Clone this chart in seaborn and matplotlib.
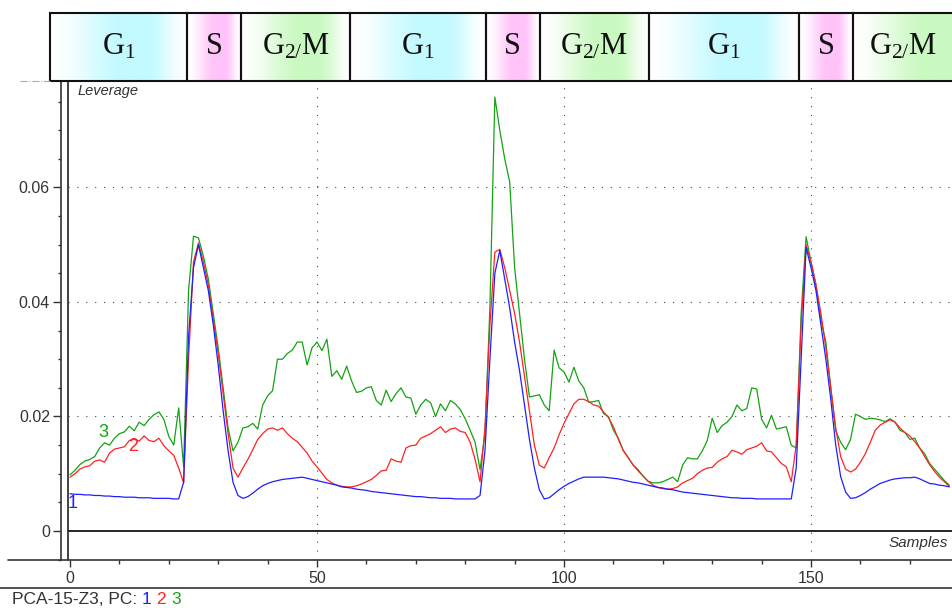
import numpy as np
import pandas as pd
import matplotlib
matplotlib.use("Agg")
import matplotlib.pyplot as plt
from matplotlib.lines import Line2D
from matplotlib.patches import Rectangle
from matplotlib.ticker import MultipleLocator, FixedLocator
from matplotlib.colors import to_rgb
import seaborn as sns

# ---------------------------------------------------------------- data
samples = np.arange(179)

pc1 = [
    0.0065, 0.0064, 0.0064, 0.0063, 0.0063, 0.0062, 0.0062, 0.0061, 0.0061, 0.0060,
    0.0060, 0.0059, 0.0059, 0.0059, 0.0058, 0.0058, 0.0058, 0.0057, 0.0057, 0.0057,
    0.0057, 0.0056, 0.0056, 0.0085, 0.0340, 0.0460, 0.0500, 0.0460, 0.0420, 0.0360,
    0.0290, 0.0210, 0.0140, 0.0085, 0.0062, 0.0057, 0.0060, 0.0066, 0.0073, 0.0079,
    0.0083, 0.0086, 0.0088, 0.0090, 0.0091, 0.0092, 0.0093, 0.0094, 0.0092, 0.0090,
    0.0088, 0.0086, 0.0084, 0.0082, 0.0080, 0.0077, 0.0076, 0.0075, 0.0073, 0.0072,
    0.0071, 0.0069, 0.0068, 0.0067, 0.0066, 0.0065, 0.0064, 0.0063, 0.0062, 0.0061,
    0.0060, 0.0060, 0.0059, 0.0058, 0.0058, 0.0057, 0.0057, 0.0057, 0.0056, 0.0056,
    0.0056, 0.0056, 0.0056, 0.0062, 0.0140, 0.0300, 0.0450, 0.0490, 0.0440, 0.0390,
    0.0330, 0.0280, 0.0220, 0.0160, 0.0110, 0.0072, 0.0056, 0.0058, 0.0065, 0.0072,
    0.0078, 0.0083, 0.0087, 0.0091, 0.0094, 0.0094, 0.0094, 0.0094, 0.0094, 0.0093,
    0.0092, 0.0091, 0.0089, 0.0087, 0.0085, 0.0084, 0.0082, 0.0080, 0.0078, 0.0076,
    0.0075, 0.0073, 0.0072, 0.0070, 0.0068, 0.0067, 0.0066, 0.0065, 0.0064, 0.0063,
    0.0062, 0.0061, 0.0060, 0.0059, 0.0058, 0.0058, 0.0057, 0.0057, 0.0057, 0.0056,
    0.0056, 0.0056, 0.0056, 0.0056, 0.0056, 0.0056, 0.0056, 0.0110, 0.0300, 0.0495,
    0.0460, 0.0420, 0.0360, 0.0300, 0.0230, 0.0150, 0.0095, 0.0068, 0.0057, 0.0058,
    0.0062, 0.0067, 0.0073, 0.0078, 0.0083, 0.0086, 0.0089, 0.0091, 0.0092, 0.0093,
    0.0093, 0.0094, 0.0091, 0.0087, 0.0083, 0.0082, 0.0080, 0.0079, 0.0077,
]

pc2 = [
    0.0094, 0.0100, 0.0108, 0.0112, 0.0114, 0.0122, 0.0124, 0.0120, 0.0136, 0.0143,
    0.0145, 0.0147, 0.0158, 0.0160, 0.0157, 0.0166, 0.0158, 0.0156, 0.0162, 0.0149,
    0.0140, 0.0132, 0.0110, 0.0084, 0.0300, 0.0470, 0.0503, 0.0470, 0.0430, 0.0370,
    0.0310, 0.0240, 0.0170, 0.0110, 0.0094, 0.0110, 0.0125, 0.0142, 0.0160, 0.0170,
    0.0178, 0.0180, 0.0176, 0.0180, 0.0170, 0.0162, 0.0156, 0.0146, 0.0136, 0.0122,
    0.0112, 0.0101, 0.0090, 0.0084, 0.0080, 0.0078, 0.0077, 0.0077, 0.0079, 0.0082,
    0.0086, 0.0090, 0.0097, 0.0105, 0.0106, 0.0126, 0.0122, 0.0120, 0.0145, 0.0149,
    0.0150, 0.0162, 0.0166, 0.0170, 0.0176, 0.0182, 0.0172, 0.0178, 0.0180, 0.0174,
    0.0172, 0.0155, 0.0125, 0.0086, 0.0180, 0.0360, 0.0487, 0.0492, 0.0460, 0.0420,
    0.0380, 0.0330, 0.0270, 0.0210, 0.0150, 0.0115, 0.0110, 0.0128, 0.0145, 0.0168,
    0.0188, 0.0205, 0.0222, 0.0230, 0.0230, 0.0226, 0.0220, 0.0218, 0.0208, 0.0198,
    0.0182, 0.0160, 0.0141, 0.0128, 0.0115, 0.0105, 0.0096, 0.0087, 0.0080, 0.0076,
    0.0074, 0.0073, 0.0074, 0.0077, 0.0084, 0.0088, 0.0092, 0.0100, 0.0106, 0.0110,
    0.0111, 0.0120, 0.0126, 0.0130, 0.0141, 0.0138, 0.0134, 0.0142, 0.0145, 0.0148,
    0.0154, 0.0140, 0.0138, 0.0128, 0.0118, 0.0112, 0.0086, 0.0150, 0.0360, 0.0500,
    0.0470, 0.0430, 0.0380, 0.0320, 0.0250, 0.0180, 0.0130, 0.0108, 0.0103, 0.0108,
    0.0120, 0.0135, 0.0155, 0.0176, 0.0185, 0.0190, 0.0194, 0.0190, 0.0180, 0.0172,
    0.0166, 0.0156, 0.0145, 0.0130, 0.0116, 0.0104, 0.0094, 0.0086, 0.0078,
]

pc3 = [
    0.0098, 0.0106, 0.0116, 0.0122, 0.0125, 0.0130, 0.0145, 0.0154, 0.0150, 0.0162,
    0.0170, 0.0173, 0.0183, 0.0175, 0.0190, 0.0184, 0.0195, 0.0203, 0.0208, 0.0195,
    0.0165, 0.0150, 0.0215, 0.0112, 0.0420, 0.0515, 0.0512, 0.0480, 0.0440, 0.0380,
    0.0320, 0.0250, 0.0180, 0.0140, 0.0155, 0.0180, 0.0182, 0.0188, 0.0178, 0.0220,
    0.0236, 0.0245, 0.0300, 0.0300, 0.0310, 0.0316, 0.0330, 0.0330, 0.0290, 0.0320,
    0.0330, 0.0315, 0.0335, 0.0270, 0.0280, 0.0265, 0.0288, 0.0262, 0.0242, 0.0244,
    0.0250, 0.0252, 0.0228, 0.0220, 0.0246, 0.0226, 0.0240, 0.0250, 0.0234, 0.0232,
    0.0204, 0.0220, 0.0230, 0.0224, 0.0200, 0.0222, 0.0210, 0.0228, 0.0222, 0.0212,
    0.0196, 0.0176, 0.0155, 0.0107, 0.0170, 0.0390, 0.0758, 0.0700, 0.0650, 0.0610,
    0.0460, 0.0380, 0.0300, 0.0234, 0.0236, 0.0238, 0.0220, 0.0210, 0.0316, 0.0285,
    0.0278, 0.0260, 0.0286, 0.0262, 0.0250, 0.0225, 0.0226, 0.0228, 0.0205, 0.0200,
    0.0176, 0.0162, 0.0140, 0.0128, 0.0115, 0.0107, 0.0096, 0.0087, 0.0084, 0.0084,
    0.0086, 0.0090, 0.0094, 0.0086, 0.0115, 0.0128, 0.0126, 0.0126, 0.0140, 0.0158,
    0.0197, 0.0172, 0.0184, 0.0190, 0.0200, 0.0220, 0.0210, 0.0214, 0.0250, 0.0248,
    0.0195, 0.0180, 0.0202, 0.0178, 0.0180, 0.0182, 0.0150, 0.0145, 0.0380, 0.0514,
    0.0470, 0.0430, 0.0370, 0.0330, 0.0250, 0.0175, 0.0155, 0.0142, 0.0160, 0.0204,
    0.0200, 0.0195, 0.0197, 0.0196, 0.0194, 0.0191, 0.0196, 0.0190, 0.0176, 0.0172,
    0.0160, 0.0162, 0.0145, 0.0135, 0.0118, 0.0108, 0.0098, 0.0088, 0.0080,
]

# cell-cycle phases along the sample axis
phase_names = ["G1", "S", "G2/M", "G1", "S", "G2/M", "G1", "S", "G2/M"]
phase_edges = [-4.05, 23.7, 34.6, 56.7, 84.2, 95.1, 117.2, 147.6, 158.5, 186.0]
phase_text = {"G1": r"$\mathregular{G_1}$", "S": "S", "G2/M": r"$\mathregular{G_{2/}M}$"}
phase_colors = {"G1": "#c2faff", "S": "#ffc2f9", "G2/M": "#caf9c2"}

series_names = ["1", "2", "3"]
series_colors = {"1": "#1f1fff", "2": "#ff2222", "3": "#13a313"}

y_major = [0, 0.02, 0.04, 0.06]
x_major = [0, 50, 100, 150]

# ---------------------------------------------------------------- style
sns.set_style("white")
plt.rcParams["font.family"] = ["Liberation Sans", "DejaVu Sans"]
plt.rcParams["mathtext.fontset"] = "custom"
plt.rcParams["mathtext.rm"] = "Liberation Serif"

W, H = 953, 610
fig = plt.figure(figsize=(W / 100, H / 100), dpi=100)
fig.patch.set_facecolor("white")


def fy(py):
    return 1 - py / H


ink = "#333333"

# main plotting area
ax = fig.add_axes([68 / W, fy(560), (953 - 68) / W, (560 - 81) / H])
ax.set_facecolor("white")

long = pd.DataFrame({
    "Samples": np.tile(samples, 3),
    "Leverage": np.concatenate([pc1, pc2, pc3]),
    "PC": np.repeat(series_names, len(samples)),
})
sns.lineplot(data=long, x="Samples", y="Leverage", hue="PC",
             hue_order=["3", "2", "1"], palette=series_colors,
             linewidth=0.9, legend=False, sort=False, ax=ax, zorder=3)

ax.set_xlim(-0.405, 178.74)
ax.set_ylim(-0.00507, 0.0786)
ax.set_xlabel("")
ax.set_ylabel("")

# dotted grid
dot = dict(color="#444444", lw=0.8, dashes=(1, 7), zorder=1)
for v in y_major[1:]:
    ax.axhline(v, **dot)
for v in x_major[1:]:
    ax.axvline(v, **dot)
ax.axhline(0, color="black", lw=1.2, zorder=2)

# ticks
ax.yaxis.set_major_locator(FixedLocator(y_major))
ax.yaxis.set_minor_locator(MultipleLocator(0.005))
ax.set_yticklabels(["0", "0.02", "0.04", "0.06"])
ax.xaxis.set_major_locator(FixedLocator(x_major))
ax.xaxis.set_minor_locator(MultipleLocator(10))
ax.tick_params(axis="y", which="major", length=6, width=1, color=ink,
               labelsize=11.5, labelcolor=ink, pad=2, left=True)
ax.tick_params(axis="y", which="minor", length=2.5, width=1, color=ink, left=True)
ax.tick_params(axis="x", which="major", length=5, width=1, color=ink,
               labelsize=11.5, labelcolor=ink, pad=3, bottom=True)
ax.tick_params(axis="x", which="minor", length=3, width=1, color=ink, bottom=True)

for s in ["top", "right", "bottom"]:
    ax.spines[s].set_visible(False)
ax.spines["left"].set_position(("outward", 5))
ax.spines["left"].set_color(ink)
ax.spines["left"].set_linewidth(1.2)
# inner border of the plotting area
ax.plot([0, 0], [0, 1], transform=ax.transAxes, color="#222222", lw=1.2,
        clip_on=False, zorder=4)

ax.text(0.0113, 0.979, "Leverage", transform=ax.transAxes, style="italic",
        fontsize=10.5, color=ink, va="center", ha="left")
ax.text(0.9944, 0.0355, "Samples", transform=ax.transAxes, style="italic",
        fontsize=11, color=ink, va="center", ha="right")

# series labels next to the start of each curve
ax.text(0.6, 0.0048, "1", color=series_colors["1"], fontsize=13, ha="center", va="center")
ax.text(12.7, 0.0148, "2", color=series_colors["2"], fontsize=13, ha="center", va="center")
ax.text(6.7, 0.0172, "3", color=series_colors["3"], fontsize=13, ha="center", va="center")

# axis lines outside the plotting area
fig.add_artist(Line2D([8 / W, 1], [fy(560), fy(560)], color=ink, lw=1.2))
fig.add_artist(Line2D([0, 1], [fy(588), fy(588)], color=ink, lw=1.2))
fig.add_artist(Line2D([20 / W, 50 / W], [fy(81), fy(81)], color="#aaaaaa",
                      lw=0.8, linestyle="-."))

# ---------------------------------------------------------------- phase band
bax = fig.add_axes([50 / W, fy(81), (953 - 50) / W, (81 - 13) / H])
bax.set_xlim(-4.05, 178.74)
bax.set_ylim(0, 1)
bax.axis("off")

t = np.linspace(0, 1, 256)
rise = np.clip(t / 0.55, 0, 1)
fall = np.clip((1 - t) / 0.3, 0, 1)
profile = np.minimum(rise * rise * (3 - 2 * rise), fall * fall * (3 - 2 * fall))

for name, x0, x1 in zip(phase_names, phase_edges[:-1], phase_edges[1:]):
    c = np.array(to_rgb(phase_colors[name]))
    img = 1 - profile[:, None] * (1 - c[None, :])
    bax.imshow(img[None, :, :], extent=[x0, x1, 0, 1], aspect="auto",
               interpolation="bilinear", zorder=1)
    bax.add_patch(Rectangle((x0, 0), x1 - x0, 1, fill=False, ec="#111111",
                            lw=1.5, clip_on=False, zorder=2))
    xc = (x0 + min(x1, 178.74)) / 2
    bax.text(xc, 0.5, phase_text[name], ha="center", va="center", fontsize=22,
             family="Liberation Serif", color="#111111", zorder=3)
bax.set_xlim(-4.05, 178.74)
bax.set_ylim(0, 1)

# ---------------------------------------------------------------- footer
renderer = fig.canvas.get_renderer()
x = 12
pieces = [("PCA-15-Z3, PC: ", ink), ("1 ", series_colors["1"]),
          ("2 ", series_colors["2"]), ("3", series_colors["3"])]
for s, c in pieces:
    tx = fig.text(x / W, fy(604), s, color=c, fontsize=12.5, ha="left", va="baseline")
    x = tx.get_window_extent(renderer=renderer).x1

fig.savefig("out.png", dpi=100)
